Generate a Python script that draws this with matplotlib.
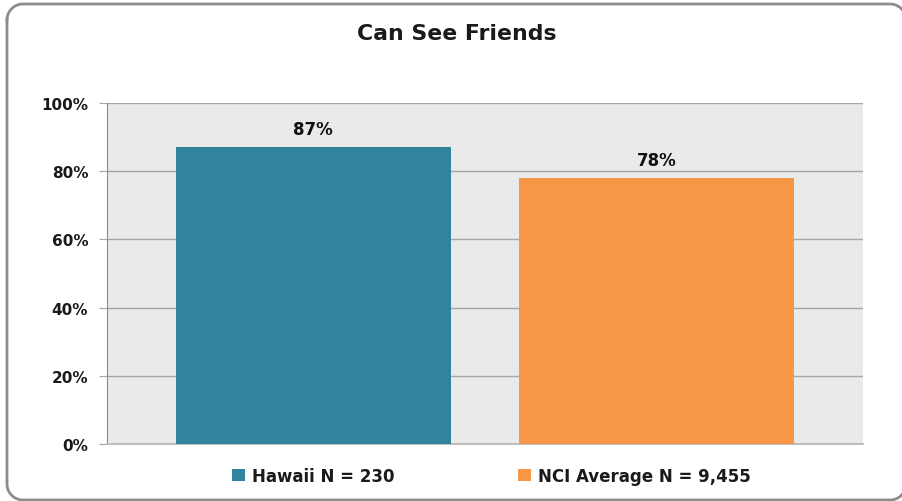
import matplotlib
matplotlib.use("Agg")
import matplotlib.pyplot as plt
import numpy as np
from matplotlib.patches import Patch

categories = ["Hawaii N = 230", "NCI Average N = 9,455"]
values = [87, 78]
colors = ["#31849B", "#F79646"]
yticks = [0, 20, 40, 60, 80, 100]
title = "Can See Friends"

plt.rcParams['font.family'] = ['DejaVu Sans']

W, H = 903, 502
fig = plt.figure(figsize=(W / 100, H / 100), dpi=100)

# background axes in pixel units for the rounded frame
bg = fig.add_axes([0, 0, 1, 1], zorder=-5)
bg.set_xlim(0, W)
bg.set_ylim(H, 0)
bg.axis("off")

def rounded_rect(x0, y0, x1, y1, r, n=24):
    pts = []
    for cx, cy, a0 in [(x0 + r, y0 + r, 180), (x1 - r, y0 + r, 270),
                       (x1 - r, y1 - r, 0), (x0 + r, y1 - r, 90)]:
        ang = np.radians(np.linspace(a0, a0 + 90, n))
        pts.extend(zip(cx + r * np.cos(ang), cy + r * np.sin(ang)))
    pts.append(pts[0])
    pts.append(pts[1])
    return np.array(pts)

fr = rounded_rect(7, 5, 906, 501, 16)
bg.plot(fr[:, 0], fr[:, 1], color="#8C8C8C", linewidth=2, clip_on=True,
        solid_joinstyle="round", solid_capstyle="round")

left, right, top, bottom = 107, 863, 104, 445
ax = fig.add_axes([left / W, 1 - bottom / H, (right - left) / W, (bottom - top) / H])
ax.set_facecolor("#EAEAEA")

x = list(range(len(categories)))
bars = ax.bar(x, values, width=0.8, color=colors, zorder=3)
ax.set_xlim(-0.6, 1.6)
ax.set_ylim(0, 100)
ax.set_yticks(yticks)
ax.set_yticklabels([f"{v}%" for v in yticks], fontsize=11, fontweight="bold", color="#1a1a1a")
ax.set_xticks([])
ax.yaxis.grid(True, color="#A6A6A6", linewidth=1, zorder=1)
ax.set_axisbelow(True)
for s in ["top", "right"]:
    ax.spines[s].set_visible(False)
ax.spines["left"].set_color("#8C8C8C")
ax.spines["bottom"].set_color("#BFBFBF")
ax.spines["bottom"].set_linewidth(1.5)
ax.tick_params(axis="y", length=6, color="#A6A6A6", pad=7.5)

for b, v in zip(bars, values):
    ax.annotate(f"{v}%", (b.get_x() + b.get_width() / 2, v), xytext=(0, 6.5),
                textcoords="offset points", ha="center", va="bottom",
                fontsize=12, fontweight="bold", color="#111111")

fig.text(457 / W, 1 - 34 / H, title, ha="center", va="center",
         fontsize=15.8, fontweight="bold", color="#1a1a1a")

handles = [Patch(facecolor=c, edgecolor="none") for c in colors]
leg = fig.legend(handles, categories, loc="center", bbox_to_anchor=(491.5 / W, 1 - 477 / H),
                 ncol=2, frameon=False, prop={"size": 12, "weight": "bold"},
                 handlelength=0.78, handleheight=0.78, handletextpad=0.42,
                 columnspacing=7.4, borderpad=0, borderaxespad=0)
for t in leg.get_texts():
    t.set_color("#1a1a1a")

fig.savefig("out.png", dpi=100)
